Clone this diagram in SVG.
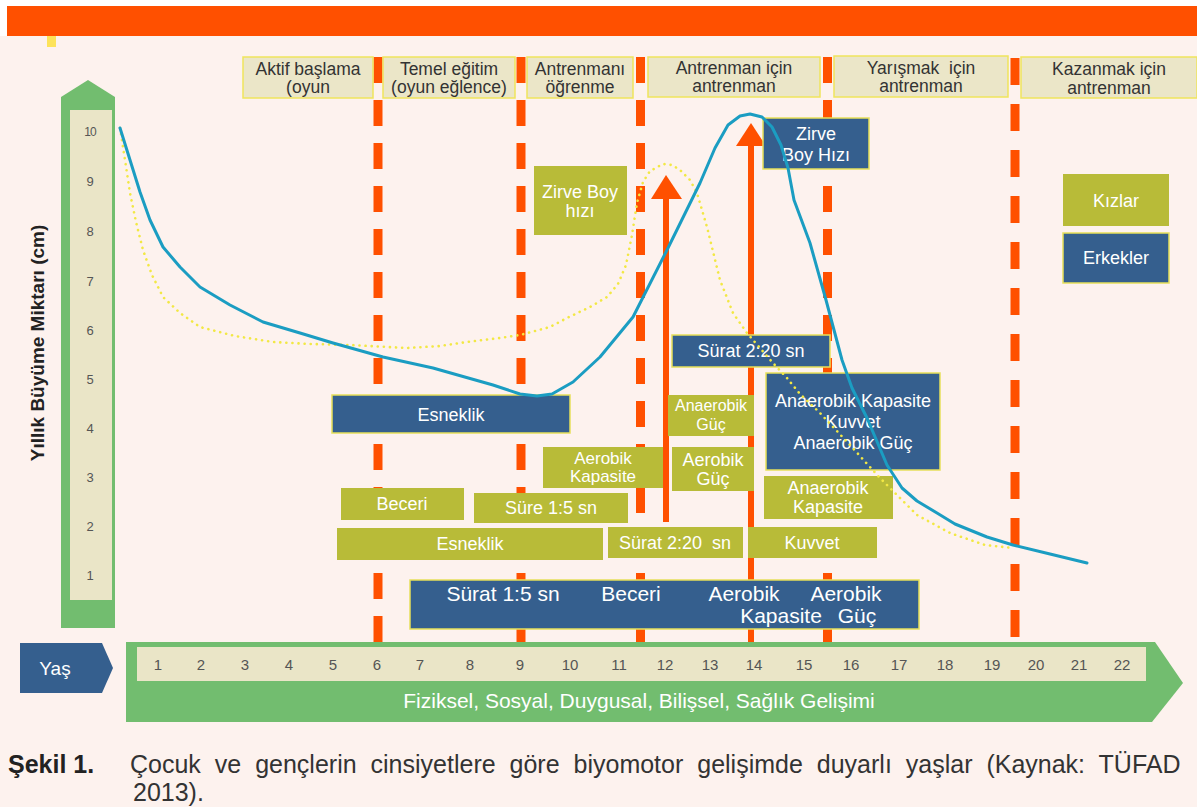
<svg xmlns="http://www.w3.org/2000/svg" width="1197" height="807" viewBox="0 0 1197 807">
<style>
.hb{fill:#ebe6c8;stroke:#efe55c;stroke-width:1.5}
.ht{font-family:"Liberation Sans",Arial,sans-serif;font-size:17.5px;fill:#333;text-anchor:middle}
.ol{fill:#b8bb38}
.bl{fill:#355f8e;stroke:#e6e05a;stroke-width:1.5}
.wt{font-family:"Liberation Sans",Arial,sans-serif;font-size:18px;fill:#fff;text-anchor:middle}
.big{font-size:21px}
.sm{font-size:16px}
.dash{stroke:#ff5000;stroke-width:9;fill:none}
.num{font-family:"Liberation Sans",Arial,sans-serif;font-size:15px;fill:#555;text-anchor:middle}
.vn{font-family:"Liberation Sans",Arial,sans-serif;font-size:13px;fill:#555;text-anchor:middle}
.cap{font-family:"Liberation Sans",Arial,sans-serif;font-size:25px;fill:#333}
</style>
<rect x="0" y="0" width="1197" height="807" fill="#fdf2ee"/>
<rect x="0" y="0" width="1197" height="6" fill="#fff"/>
<rect x="0" y="0" width="7" height="36" fill="#fff"/>
<rect x="7" y="6" width="1190" height="30" fill="#ff5000"/>
<rect x="47" y="36" width="9" height="11" fill="#fde35a"/>

<!-- vertical axis -->
<g id="y-axis">
<path d="M61,97 L88,80 L115,97 L115,628 L61,628 Z" fill="#72bd6f"/>
<rect x="70" y="110" width="42" height="490" fill="#eae5c7"/>
<text class="vn" x="90" y="136" style="font-size:12px;letter-spacing:-1px">10</text>
<text class="vn" x="90" y="186">9</text>
<text class="vn" x="90" y="236">8</text>
<text class="vn" x="90" y="286">7</text>
<text class="vn" x="90" y="335">6</text>
<text class="vn" x="90" y="384">5</text>
<text class="vn" x="90" y="433">4</text>
<text class="vn" x="90" y="482">3</text>
<text class="vn" x="90" y="531">2</text>
<text class="vn" x="90" y="580">1</text>
<text transform="translate(44,343) rotate(-90)" text-anchor="middle" font-family="Liberation Sans, Arial, sans-serif" font-weight="bold" font-size="19" fill="#222">Yıllık Büyüme Miktarı (cm)</text>
</g>

<!-- phase separators and arrows -->
<g id="connectors">
<line class="dash" x1="378" y1="57" x2="378" y2="642" stroke-dasharray="26 17"/>
<line class="dash" x1="521" y1="57" x2="521" y2="642" stroke-dasharray="26 17"/>
<line class="dash" x1="640.5" y1="57" x2="640.5" y2="642" stroke-dasharray="26 17"/>
<line class="dash" x1="827.5" y1="57" x2="827.5" y2="642" stroke-dasharray="26 17"/>
<line class="dash" x1="1015" y1="58" x2="1015" y2="638" stroke-dasharray="27 19"/>
<rect x="663" y="197" width="6" height="325" fill="#ff5000"/>
<polygon points="651,199 682,199 666,175" fill="#ff5000"/>
<rect x="748" y="144" width="6" height="498" fill="#ff5000"/>
<polygon points="736,146 766,146 751,123" fill="#ff5000"/>
</g>

<!-- headers -->
<g id="h1"><rect class="hb" x="243" y="57" width="130" height="41"/><text class="ht" x="308" y="75">Aktif başlama</text><text class="ht" x="308" y="93">(oyun</text></g>
<g id="h2"><rect class="hb" x="383" y="57" width="132" height="41"/><text class="ht" x="449" y="75">Temel eğitim</text><text class="ht" x="449" y="93">(oyun eğlence)</text></g>
<g id="h3"><rect class="hb" x="527" y="57" width="106" height="41"/><text class="ht" x="580" y="75">Antrenmanı</text><text class="ht" x="580" y="93">öğrenme</text></g>
<g id="h4"><rect class="hb" x="648" y="57" width="172" height="40"/><text class="ht" x="734" y="74">Antrenman için</text><text class="ht" x="734" y="92">antrenman</text></g>
<g id="h5"><rect class="hb" x="834" y="56" width="174" height="41"/><text class="ht" x="921" y="74" xml:space="preserve">Yarışmak  için</text><text class="ht" x="921" y="92">antrenman</text></g>
<g id="h6"><rect class="hb" x="1021" y="57" width="176" height="41"/><text class="ht" x="1109" y="75">Kazanmak için</text><text class="ht" x="1109" y="94">antrenman</text></g>

<!-- boxes -->
<g id="zirve-k"><rect class="ol" x="534" y="166" width="93" height="69"/><text class="wt" x="580" y="198">Zirve Boy</text><text class="wt" x="580" y="217">hızı</text></g>
<g id="zirve-e"><rect class="bl" x="763" y="118" width="106" height="51"/><text class="wt" x="816" y="140">Zirve</text><text class="wt" x="816" y="161">Boy Hızı</text></g>
<g id="kizlar"><rect class="ol" x="1063" y="174" width="106" height="52"/><text class="wt" x="1116" y="207">Kızlar</text></g>
<g id="erkekler"><rect class="bl" x="1063" y="233" width="106" height="50"/><text class="wt" x="1116" y="264">Erkekler</text></g>
<g id="surat220-e"><rect class="bl" x="672" y="335" width="158" height="32"/><text class="wt" x="751" y="357">Sürat 2:20 sn</text></g>
<g id="esneklik-e"><rect class="bl" x="332" y="395" width="238" height="38"/><text class="wt" x="451" y="421">Esneklik</text></g>
<g id="anaerobik-e"><rect class="bl" x="766" y="373" width="174" height="97"/><text class="wt" x="853" y="407">Anaerobik Kapasite</text><text class="wt" x="853" y="428">Kuvvet</text><text class="wt" x="853" y="449">Anaerobik Güç</text></g>
<g id="anaerobikguc-k"><rect class="ol" x="668" y="395" width="86" height="41"/><text class="wt sm" x="711" y="411">Anaerobik</text><text class="wt sm" x="711" y="430">Güç</text></g>
<g id="aerobikkap-k"><rect class="ol" x="543" y="447" width="120" height="41"/><text class="wt" x="603" y="464" style="font-size:17px">Aerobik</text><text class="wt" x="603" y="482" style="font-size:17px">Kapasite</text></g>
<g id="aerobikguc-k"><rect class="ol" x="672" y="447" width="82" height="44"/><text class="wt" x="713" y="466">Aerobik</text><text class="wt" x="713" y="485">Güç</text></g>
<g id="anaerobikkap-k"><rect class="ol" x="764" y="476" width="129" height="43"/><text class="wt" x="828" y="494">Anaerobik</text><text class="wt" x="828" y="513">Kapasite</text></g>
<g id="beceri-k"><rect class="ol" x="341" y="488" width="123" height="32"/><text class="wt" x="402" y="510">Beceri</text></g>
<g id="sure-k"><rect class="ol" x="474" y="493" width="154" height="30"/><text class="wt" x="551" y="514">Süre 1:5 sn</text></g>
<g id="esneklik-k"><rect class="ol" x="337" y="528" width="266" height="32"/><text class="wt" x="470" y="550">Esneklik</text></g>
<g id="surat220-k"><rect class="ol" x="608" y="527" width="135" height="31"/><text class="wt" x="675" y="549" xml:space="preserve">Sürat 2:20  sn</text></g>
<g id="kuvvet-k"><rect class="ol" x="748" y="527" width="129" height="31"/><text class="wt" x="812" y="549">Kuvvet</text></g>
<g id="bottom-e"><rect class="bl" x="410" y="580" width="509" height="49"/>
<text class="wt big" x="503" y="601">Sürat 1:5 sn</text>
<text class="wt big" x="631" y="601">Beceri</text>
<text class="wt big" x="744" y="601">Aerobik</text>
<text class="wt big" x="846" y="601">Aerobik</text>
<text class="wt big" x="781" y="623">Kapasite</text>
<text class="wt big" x="857" y="623">Güç</text>
</g>

<!-- growth curves -->
<g id="curves" fill="none" stroke-linejoin="round" stroke-linecap="round">
<polyline stroke="#f2e844" stroke-width="2.6" stroke-dasharray="0.1 6" points="120,128 125,160 130,193 136,222 143,250 152,275 163,297 180,313 200,327 235,336 273,342 310,344 350,345 407,348 440,346 467,342 500,338 520,335 550,327 567,318 590,307 607,297 618,284 626,265 632,235 637,203 643,182 650,171 663,164 672,165 680,170 690,180 697,193 707,227 720,280 733,313 747,333 760,348 773,363 787,378 800,394 820,413 850,445 880,478 917,515 950,533 985,545 1013,548"/>
<polyline stroke="#1b9dc2" stroke-width="3" points="120,128 130,160 140,192 150,220 163,247 180,267 200,287 230,305 263,322 300,333 333,343 383,357 433,368 493,385 520,394 537,396 552,394 573,382 600,357 633,317 667,250 700,183 715,148 728,125 740,116 750,114 762,117 772,127 781,145 788,168 794,200 810,243 826,300 834,330 842,360 852,388 867,418 887,465 902,488 917,501 937,513 955,524 987,537 1013,545 1050,554 1087,563"/>
</g>

<!-- age axis -->
<g id="age-axis">
<path d="M20,643 L102,643 L113,668 L102,693 L20,693 Z" fill="#355f8e"/>
<text x="55" y="675" text-anchor="middle" font-family="Liberation Sans, Arial, sans-serif" font-size="19" fill="#fff">Yaş</text>
<path d="M126,642 L1155,642 L1183,683 L1152,722 L126,722 Z" fill="#72bd6f"/>
<rect x="137" y="647" width="1009" height="34" fill="#eae5c7"/>
<text class="num" x="158" y="670">1</text>
<text class="num" x="201" y="670">2</text>
<text class="num" x="245" y="670">3</text>
<text class="num" x="289" y="670">4</text>
<text class="num" x="333" y="670">5</text>
<text class="num" x="377" y="670">6</text>
<text class="num" x="420" y="670">7</text>
<text class="num" x="470" y="670">8</text>
<text class="num" x="520" y="670">9</text>
<text class="num" x="570" y="670">10</text>
<text class="num" x="619" y="670">11</text>
<text class="num" x="665" y="670">12</text>
<text class="num" x="710" y="670">13</text>
<text class="num" x="754" y="670">14</text>
<text class="num" x="804" y="670">15</text>
<text class="num" x="851" y="670">16</text>
<text class="num" x="899" y="670">17</text>
<text class="num" x="945" y="670">18</text>
<text class="num" x="992" y="670">19</text>
<text class="num" x="1036" y="670">20</text>
<text class="num" x="1079" y="670">21</text>
<text class="num" x="1122" y="670">22</text>
<text x="639" y="708" text-anchor="middle" font-family="Liberation Sans, Arial, sans-serif" font-size="21" fill="#fff">Fiziksel, Sosyal, Duygusal, Bilişsel, Sağlık Gelişimi</text>
</g>

<!-- caption -->
<text class="cap" x="8" y="773" font-weight="bold" style="fill:#222">Şekil 1.</text>
<text class="cap" x="130" y="773" word-spacing="7">Çocuk ve gençlerin cinsiyetlere göre biyomotor gelişimde duyarlı yaşlar (Kaynak: TÜFAD</text>
<text class="cap" x="133" y="801">2013).</text>
</svg>
